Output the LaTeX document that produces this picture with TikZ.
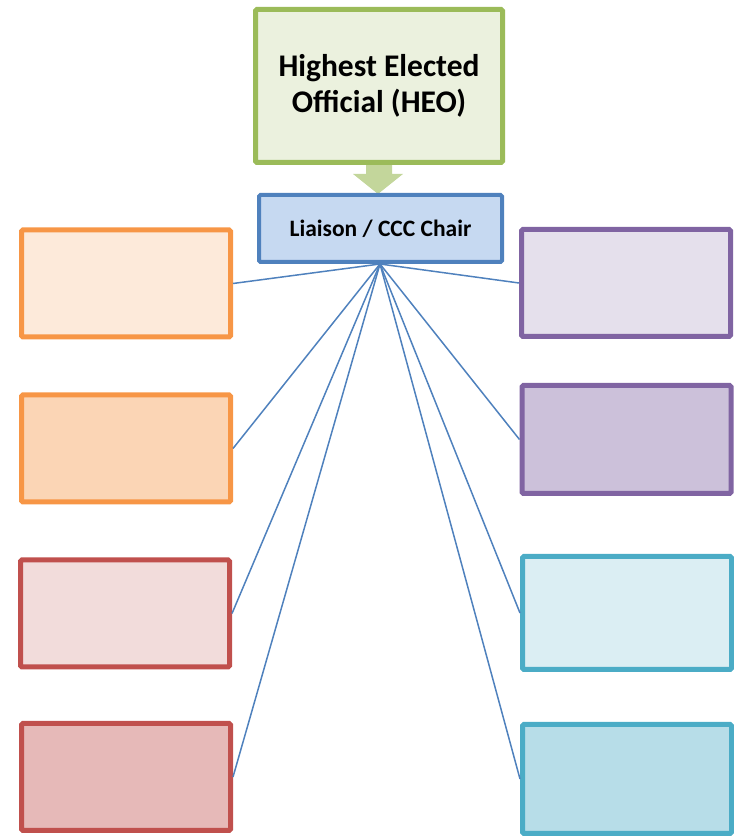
\documentclass[tikz,border=0pt]{standalone}
\usepackage{fontspec}
\setmainfont{Carlito}
\usepackage{xcolor}
\definecolor{heoline}{HTML}{9BBB59}
\definecolor{heofill}{HTML}{EBF1DE}
\definecolor{arrowfill}{HTML}{C3D69B}
\definecolor{chairline}{HTML}{4F81BD}
\definecolor{chairfill}{HTML}{C6D9F1}
\definecolor{orangeline}{HTML}{F79646}
\definecolor{orangeA}{HTML}{FDEADA}
\definecolor{orangeB}{HTML}{FBD5B5}
\definecolor{redline}{HTML}{C0504D}
\definecolor{redA}{HTML}{F2DCDB}
\definecolor{redB}{HTML}{E6B9B8}
\definecolor{purpleline}{HTML}{8064A2}
\definecolor{purpleA}{HTML}{E5E0EC}
\definecolor{purpleB}{HTML}{CCC1DA}
\definecolor{aqualine}{HTML}{4BACC6}
\definecolor{aquaA}{HTML}{DBEEF3}
\definecolor{aquaB}{HTML}{B7DDE8}

\begin{document}
\begin{tikzpicture}[x=1pt,y=1pt,
  box/.style={draw, line width=5pt, rounded corners=1.5pt, inner sep=0pt,
    minimum width=209pt, minimum height=107pt},
  link/.style={chairline, line width=1.5pt}]
\useasboundingbox (0,0) rectangle (734,836);
% the arrow from the HEO down to the chair
\fill[arrowfill] (366,672)--(392,672)--(392,662)--(403,662)--(378,642)
  --(353,662)--(366,662)--cycle;
% top boxes
\node[box, draw=heoline, fill=heofill, minimum width=247pt, minimum height=153pt,
  align=center, font=\bfseries\fontsize{31.5}{36}\selectfont] (heo) at (379,750)
  {Highest Elected\\Official (HEO)};
\node[box, draw=chairline, fill=chairfill, line width=4pt, minimum width=243pt,
  minimum height=67pt, font=\bfseries\fontsize{23.5}{26}\selectfont] (chair) at (380.5,607.5)
  {Liaison / CCC Chair};
% left column
\node[box, draw=orangeline, fill=orangeA] (left1) at (126,552.5) {};
\node[box, draw=orangeline, fill=orangeB] (left2) at (126,387.5) {};
\node[box, draw=redline, fill=redA] (left3) at (125,222.5) {};
\node[box, draw=redline, fill=redB] (left4) at (126,59) {};
% right column
\node[box, draw=purpleline, fill=purpleA] (right1) at (626,553) {};
\node[box, draw=purpleline, fill=purpleB, minimum height=108pt] (right2) at (626.5,396.5) {};
\node[box, draw=aqualine, fill=aquaA, minimum height=113pt] (right3) at (627,223) {};
\node[box, draw=aqualine, fill=aquaB, minimum height=109pt] (right4) at (627,57) {};
% lines from the chair
\coordinate (hub) at (380,572);
\draw[link] (hub) -- (left1.east);
\draw[link] (hub) -- (left2.east);
\draw[link] (hub) -- (left3.east);
\draw[link] (hub) -- (left4.east);
\draw[link] (hub) -- (right1.west);
\draw[link] (hub) -- (right2.west);
\draw[link] (hub) -- (right3.west);
\draw[link] (hub) -- (right4.west);
\end{tikzpicture}
\end{document}
